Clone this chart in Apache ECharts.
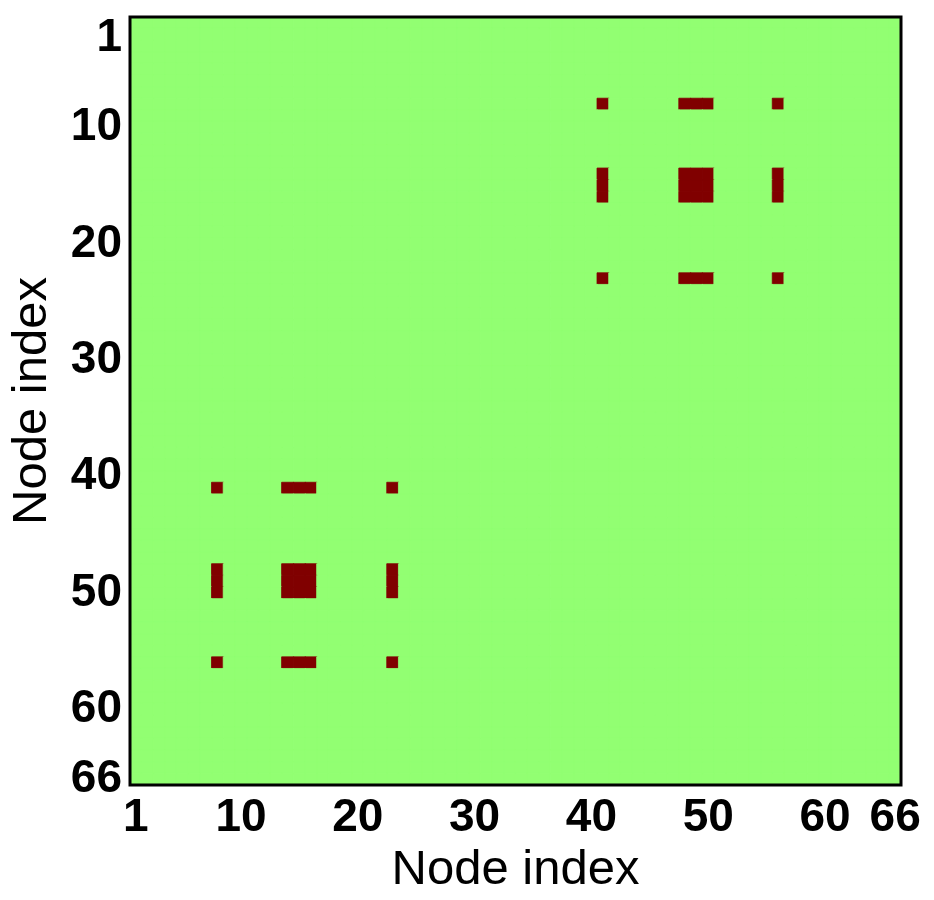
<!DOCTYPE html>
<html>
<head>
<meta charset="utf-8">
<script src="https://cdn.jsdelivr.net/npm/echarts@6/dist/echarts.min.js"></script>
<style>
html,body{margin:0;padding:0;background:#fff;}
#chart{width:934px;height:900px;}
</style>
</head>
<body>
<div id="chart"></div>
<script>
// Node count
const nodeCount = 66;
// Two groups of nodes that are linked to each other (symmetric adjacency)
const groupA = [8, 14, 15, 16, 23];
const groupB = [41, 48, 49, 50, 56];
// Tick labels shown on both axes
const tickLabels = [1, 10, 20, 30, 40, 50, 60, 66];

const colorNoLink = '#92ff72';
const colorLink = '#800000';

const nodes = [];
for (let i = 1; i <= nodeCount; i++) nodes.push(String(i));

// Build adjacency matrix cells (0 = no link, 1 = link)
const cells = [];
for (let r = 1; r <= nodeCount; r++) {
  for (let c = 1; c <= nodeCount; c++) {
    const link = (groupA.includes(r) && groupB.includes(c)) || (groupB.includes(r) && groupA.includes(c));
    const col = link ? colorLink : colorNoLink;
    cells.push({value: [c - 1, r - 1, link ? 1 : 0], itemStyle: {color: col, borderColor: col, borderWidth: 0.8}});
  }
}

const chart = echarts.init(document.getElementById('chart'), null, {renderer: 'canvas'});
const fam = '"Liberation Sans", Arial, sans-serif';
const tickFont = {fontFamily: fam, fontWeight: 'bold', fontSize: 46, color: '#000'};
const showTick = (idx) => tickLabels.includes(idx + 1);

chart.setOption({
  animation: false,
  backgroundColor: '#ffffff',
  grid: {left: 128, top: 17, width: 773, height: 772, show: true, borderColor: '#000', borderWidth: 3, backgroundColor: 'transparent', z: 10},
  xAxis: {
    type: 'category', data: nodes, position: 'bottom',
    axisLine: {show: false}, axisTick: {show: false}, splitLine: {show: false},
    axisLabel: Object.assign({interval: showTick, margin: 10}, tickFont),
    name: 'Node index', nameLocation: 'middle', nameGap: 56,
    nameTextStyle: {fontFamily: fam, fontSize: 49, color: '#000'}
  },
  yAxis: {
    type: 'category', data: nodes, inverse: true,
    axisLine: {show: false}, axisTick: {show: false}, splitLine: {show: false},
    axisLabel: Object.assign({
      interval: showTick, margin: 8,
      formatter: (v) => v === '1' ? '{first|1}' : v,
      rich: {first: Object.assign({padding: [30, 0, 0, 0]}, tickFont)}
    }, tickFont),
    name: 'Node index', nameLocation: 'middle', nameGap: 73, nameRotate: 90,
    nameTextStyle: {fontFamily: fam, fontSize: 49, color: '#000'}
  },
  series: [{
    type: 'heatmap', data: cells,
    emphasis: {disabled: true}
  }]
});
</script>
</body>
</html>
